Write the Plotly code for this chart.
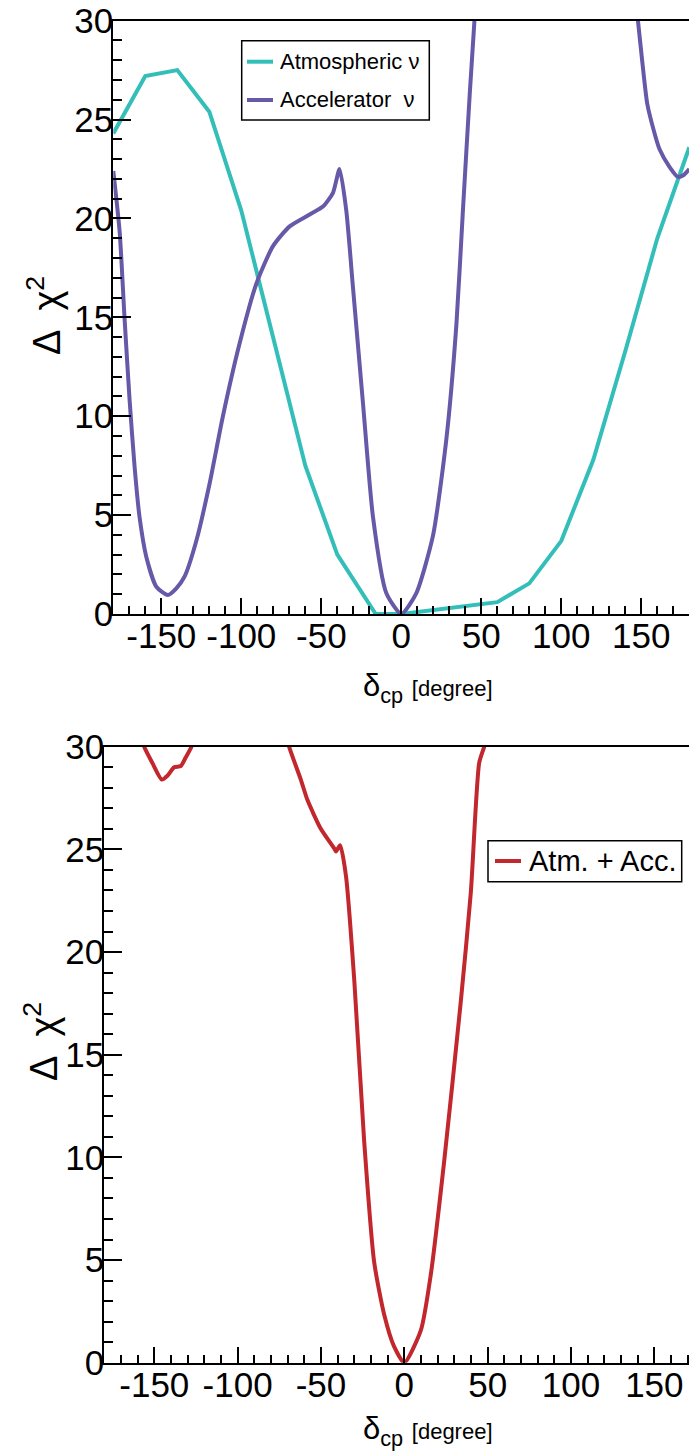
import plotly.graph_objects as go

# Delta chi^2 versus delta_CP, atmospheric and accelerator samples (top) and combined (bottom)
atm_dcp = [-180, -160, -140, -120, -100, -80, -60, -40, -20, -16, 0, 20, 40, 60, 80, 100, 120, 140, 160, 180]
atm_chi2 = [24.3, 27.2, 27.5, 25.4, 20.4, 13.9, 7.5, 3.0, 0.5, 0.0, 0.0, 0.2, 0.4, 0.6, 1.55, 3.7, 7.8, 13.3, 19.0, 23.6]

acc_dcp = [-180, -176, -173, -169.8, -166.7, -163.6, -159.4, -153.1, -145.9, -140.6, -135.4,
           -128.1, -119.8, -111.5, -101, -90.6, -80.2, -69.8, -57.3, -49, -42.7, -38.6,
           -34.4, -30.2, -24, -17.7, -9.4, 0, 9.4, 19.8, 28.1, 34.4, 38.5, 42.7, 46.5,
           None,
           146.5, 147.9, 150.5, 153.7, 158.3, 161.4, 167.7, 172.9, 176.5, 180]
acc_chi2 = [22.4, 19.3, 15.0, 10.8, 7.45, 4.9, 2.9, 1.38, 0.96, 1.3, 1.9,
            3.7, 6.6, 10.0, 13.7, 16.7, 18.6, 19.6, 20.2, 20.6, 21.3, 22.5,
            20.4, 16.5, 10.7, 4.9, 1.06, 0.0, 1.06, 3.96, 8.8, 14.6, 20.4, 26.2, 31.0,
            None,
            31.0, 30.0, 28.0, 25.8, 24.3, 23.5, 22.6, 22.1, 22.2, 22.5]

comb_dcp = [-157, -156.1, -151.1, -145.5, -142, -138.1, -134.1, -131, -127.7, -127,
            None,
            -70, -69.1, -62.1, -58.1, -50.1, -42.1, -41, -38.5, -35.0, -30, -24.1, -18.1,
            -12.1, -6.1, 0, 9.9, 15.9, 23.9, 33.9, 39.9, 44.9, 47.9, 49]
comb_chi2 = [30.4, 30.0, 29.2, 28.4, 28.6, 29.0, 29.06, 29.5, 30.0, 30.4,
             None,
             30.4, 30.0, 28.4, 27.4, 26.0, 25.05, 24.9, 25.2, 23.7, 18.6, 10.8, 4.9,
             2.35, 0.78, 0.0, 1.57, 4.3, 9.8, 17.6, 22.9, 29.2, 30.0, 30.5]

x_ticks = [-150, -100, -50, 0, 50, 100, 150]
x_ticktext = ["-150", "-100", "-50", "0", "50", "100", "150"]
y_ticks = [0, 5, 10, 15, 20, 25, 30]

C_ATM = "#33BEBA"
C_ACC = "#6858A8"
C_COMB = "#C1272D"
FONT = "Liberation Sans, Arial, Helvetica, sans-serif"

W, H = 689, 1454


def px(x):
    return x / W


def py(y):
    return 1 - y / H


fig = go.Figure()
fig.add_trace(go.Scatter(x=atm_dcp, y=atm_chi2, mode="lines", name="Atmospheric ν",
                         line=dict(color=C_ATM, width=4), xaxis="x", yaxis="y", showlegend=False))
fig.add_trace(go.Scatter(x=acc_dcp, y=acc_chi2, mode="lines", name="Accelerator ν",
                         line=dict(color=C_ACC, width=4, shape="spline", smoothing=0.6),
                         connectgaps=False, xaxis="x", yaxis="y", showlegend=False))
fig.add_trace(go.Scatter(x=comb_dcp, y=comb_chi2, mode="lines", name="Atm. + Acc.",
                         line=dict(color=C_COMB, width=4, shape="spline", smoothing=0.6),
                         connectgaps=False, xaxis="x2", yaxis="y2", showlegend=False))


def xaxis_style(domain, rng, anchor):
    return dict(domain=domain, range=rng, anchor=anchor, automargin=False,
                showline=True, linewidth=2, linecolor="black", mirror=True,
                ticks="inside", ticklen=16, tickwidth=1.5, tickcolor="black",
                tickvals=x_ticks, ticktext=x_ticktext,
                tickfont=dict(family=FONT, size=35, color="black"),
                minor=dict(dtick=10, tick0=0, ticks="inside", ticklen=8, tickwidth=1.5, tickcolor="black"),
                showgrid=False, zeroline=False, ticklabelstandoff=-10)


def yaxis_style(domain, anchor):
    return dict(domain=domain, range=[0, 30], anchor=anchor, automargin=False,
                showline=True, linewidth=2, linecolor="black", mirror=False,
                ticks="inside", ticklen=18, tickwidth=1.5, tickcolor="black",
                tickvals=y_ticks, tickfont=dict(family=FONT, size=35, color="black"),
                minor=dict(dtick=1, tick0=0, ticks="inside", ticklen=9, tickwidth=1.5, tickcolor="black"),
                showgrid=False, zeroline=False, ticklabelstandoff=-9)


fig.update_layout(
    width=W, height=H,
    margin=dict(l=0, r=0, t=0, b=0, pad=0, autoexpand=False),
    paper_bgcolor="white", plot_bgcolor="white",
    font=dict(family=FONT, color="black"),
    showlegend=False,
    xaxis=xaxis_style([px(113.3), 1], [-180, 179.8], "y"),
    yaxis=yaxis_style([py(614), py(20.7)], "x"),
    xaxis2=xaxis_style([px(104.3), 1], [-180, 170.8], "y2"),
    yaxis2=yaxis_style([py(1362.7), py(746.7)], "x2"),
)

shapes = []
annotations = []

# legend boxes
shapes.append(dict(type="rect", xref="paper", yref="paper",
                   x0=px(241.7), x1=px(429.3), y0=py(120), y1=py(40.7),
                   line=dict(color="black", width=1.5), fillcolor="white", layer="above"))
for yy, col, txt in [(61.7, C_ATM, "Atmospheric ν"), (100, C_ACC, "Accelerator  ν")]:
    shapes.append(dict(type="line", xref="paper", yref="paper",
                       x0=px(247), x1=px(273), y0=py(yy), y1=py(yy),
                       line=dict(color=col, width=4), layer="above"))
    annotations.append(dict(text=txt, xref="paper", yref="paper", x=px(278), y=py(yy),
                            xanchor="left", yanchor="middle", showarrow=False,
                            font=dict(family=FONT, size=22, color="black")))

shapes.append(dict(type="rect", xref="paper", yref="paper",
                   x0=px(488), x1=px(681.7), y0=py(881.7), y1=py(840.7),
                   line=dict(color="black", width=1.5), fillcolor="white", layer="above"))
shapes.append(dict(type="line", xref="paper", yref="paper",
                   x0=px(495), x1=px(521), y0=py(861), y1=py(861),
                   line=dict(color=C_COMB, width=4), layer="above"))
annotations.append(dict(text="Atm. + Acc.", xref="paper", yref="paper", x=px(527), y=py(861),
                        xanchor="left", yanchor="middle", showarrow=False,
                        font=dict(family=FONT, size=29, color="black")))

# axis titles
xtitle = "δ<sub>cp</sub> <span style='font-size:22px'>[degree]</span>"
for yy in (688, 1431):
    annotations.append(dict(text=xtitle, xref="paper", yref="paper", x=px(361), y=py(yy),
                            xanchor="left", yanchor="middle", showarrow=False,
                            font=dict(family=FONT, size=31, color="black")))
ytitle = "Δ  χ<sup>2</sup>"
for xx, yy in ((44, 316), (41, 1042)):
    annotations.append(dict(text=ytitle, xref="paper", yref="paper", x=px(xx), y=py(yy),
                            xanchor="center", yanchor="middle", showarrow=False, textangle=-90,
                            font=dict(family=FONT, size=38, color="black")))

fig.update_layout(shapes=shapes, annotations=annotations)
fig.write_html("out.html")
